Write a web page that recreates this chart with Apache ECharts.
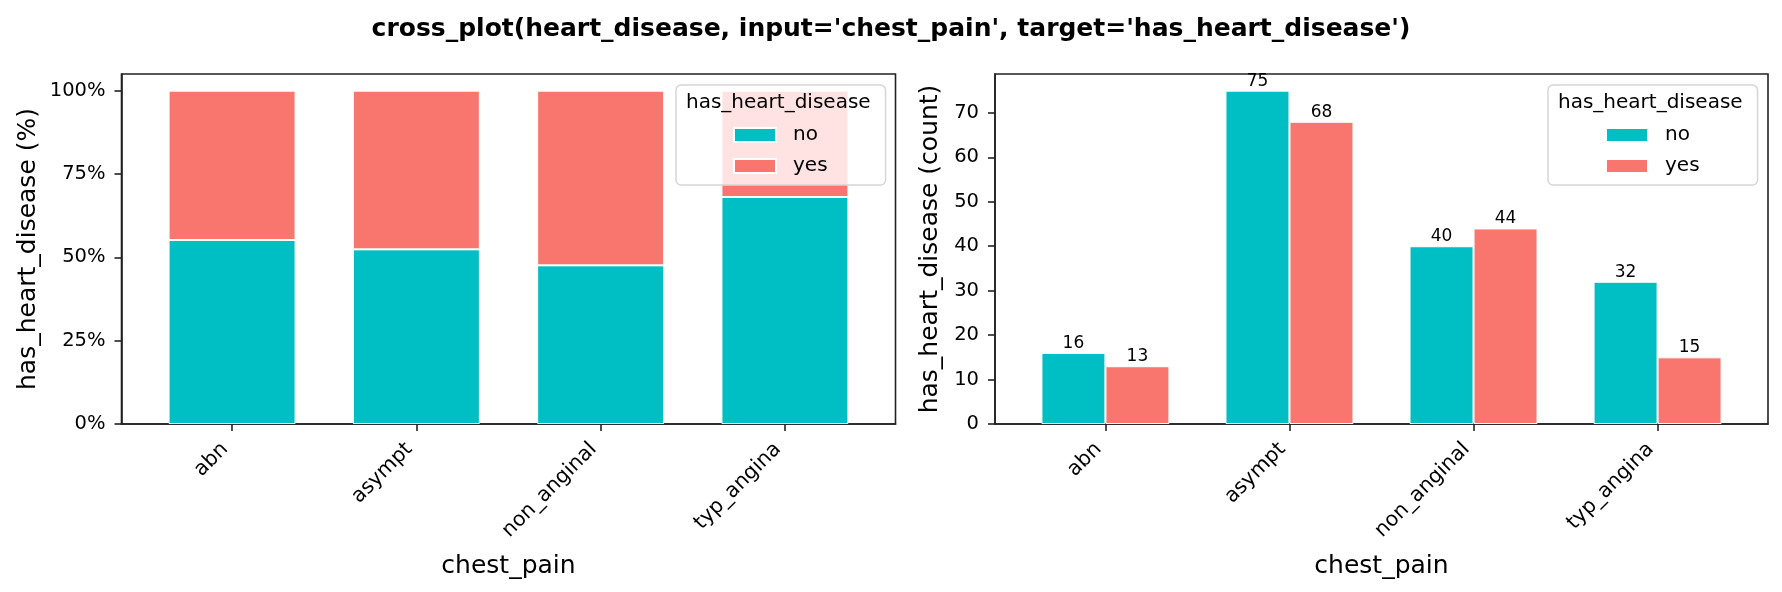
<!DOCTYPE html>
<html>
<head>
<meta charset="utf-8">
<script src="https://cdn.jsdelivr.net/npm/echarts@6/dist/echarts.min.js"></script>
<style>
  html, body { margin: 0; padding: 0; background: #fff; }
  #chart { width: 1782px; height: 592px; }
</style>
</head>
<body>
<div id="chart"></div>
<script>
// data
const categories = ['abn', 'asympt', 'non_anginal', 'typ_angina'];
const noCount = [16, 75, 40, 32];
const yesCount = [13, 68, 44, 15];
const noPct = [55.2, 52.4, 47.6, 68.1];
const yesPct = [44.8, 47.6, 52.4, 31.9];
const pctTicks = [0, 25, 50, 75, 100];

const TEAL = '#00BFC4';
const RED = '#F8766D';
const FONT = 'DejaVu Sans';

const chart = echarts.init(document.getElementById('chart'));

// bars sit on a value axis so the matplotlib margins can be kept;
// value goes first in each row so stacking works on y
const pos = categories.map((c, i) => i);
function rows(vals) {
  return vals.map((v, i) => [v, pos[i]]);
}

function xAxisFor(gridIndex) {
  return {
    type: 'value',
    gridIndex: gridIndex,
    min: -0.6,
    max: 3.6,
    name: 'chest_pain',
    nameLocation: 'middle',
    nameGap: 130,
    nameTextStyle: { fontSize: 25, color: '#000', fontFamily: FONT },
    axisLine: { show: true, onZero: false, lineStyle: { color: '#222', width: 1.6 } },
    axisTick: { show: true, length: 7, lineStyle: { color: '#222', width: 1.6 }, customValues: pos },
    axisLabel: {
      customValues: pos,
      rotate: 45,
      margin: 15,
      padding: [0, 10, 0, 0],
      fontSize: 20.5,
      color: '#000',
      fontFamily: FONT,
      formatter: v => categories[v]
    },
    splitLine: { show: false }
  };
}

function legendFor(left) {
  return {
    orient: 'vertical',
    left: left,
    top: 85,
    data: ['no', 'yes'],
    icon: 'rect',
    itemWidth: 42,
    itemHeight: 14,
    itemGap: 11,
    padding: [40, 58, 9, 57],
    backgroundColor: 'rgba(255,255,255,0.8)',
    borderColor: '#d6d6d6',
    borderWidth: 1.5,
    borderRadius: 5,
    textStyle: { fontSize: 20, color: '#000', fontFamily: FONT, padding: [0, 0, 0, 12] },
    selectedMode: false
  };
}

function barSeries(name, color, vals, xi, width, stack, withLabel) {
  const s = {
    name: name, type: 'bar', xAxisIndex: xi, yAxisIndex: xi,
    barWidth: width, barGap: '0%',
    encode: { x: 1, y: 0 },
    data: rows(vals),
    itemStyle: { color: color, borderColor: '#fff', borderWidth: 1 }
  };
  if (stack) s.stack = stack;
  if (withLabel) {
    s.label = { show: true, position: 'top', distance: 1, fontSize: 17, color: '#000', fontFamily: FONT,
                formatter: p => p.value[0] };
  }
  return s;
}

const option = {
  animation: false,
  textStyle: { fontFamily: FONT },
  title: {
    text: "cross_plot(heart_disease, input='chest_pain', target='has_heart_disease')",
    left: 'center',
    top: 12,
    textStyle: { fontSize: 25, fontWeight: 'bold', color: '#000', fontFamily: FONT }
  },
  legend: [legendFor(676), legendFor(1548)],
  graphic: [
    { type: 'text', left: 686, top: 93, z: 100,
      style: { text: 'has_heart_disease', fontSize: 20, fill: '#000', fontFamily: FONT } },
    { type: 'text', left: 1558, top: 93, z: 100,
      style: { text: 'has_heart_disease', fontSize: 20, fill: '#000', fontFamily: FONT } }
  ],
  grid: [
    { left: 121.5, width: 774, top: 74, bottom: 168, show: true, borderColor: '#222', borderWidth: 1.6, backgroundColor: 'transparent' },
    { left: 995, width: 773, top: 74, bottom: 168, show: true, borderColor: '#222', borderWidth: 1.6, backgroundColor: 'transparent' }
  ],
  xAxis: [xAxisFor(0), xAxisFor(1)],
  yAxis: [
    {
      type: 'value',
      gridIndex: 0,
      min: 0,
      max: 105,
      name: 'has_heart_disease (%)',
      nameLocation: 'middle',
      nameGap: 81,
      nameTextStyle: { fontSize: 25, color: '#000', fontFamily: FONT },
      axisLine: { show: true, onZero: false, lineStyle: { color: '#222', width: 1.6 } },
      axisTick: { show: true, length: 7, lineStyle: { color: '#222', width: 1.6 }, customValues: pctTicks },
      axisLabel: { customValues: pctTicks, margin: 16, fontSize: 19.5, color: '#000', fontFamily: FONT, formatter: '{value}%' },
      splitLine: { show: false }
    },
    {
      type: 'value',
      gridIndex: 1,
      min: 0,
      max: 78.75,
      interval: 10,
      name: 'has_heart_disease (count)',
      nameLocation: 'middle',
      nameGap: 52,
      nameTextStyle: { fontSize: 25, color: '#000', fontFamily: FONT },
      axisLine: { show: true, onZero: false, lineStyle: { color: '#222', width: 1.6 } },
      axisTick: { show: true, length: 7, lineStyle: { color: '#222', width: 1.6 } },
      axisLabel: { margin: 16, fontSize: 19.5, color: '#000', fontFamily: FONT, showMaxLabel: false },
      splitLine: { show: false }
    }
  ],
  series: [
    barSeries('no', TEAL, noPct, 0, 127, 'pct', false),
    barSeries('yes', RED, yesPct, 0, 127, 'pct', false),
    barSeries('no', TEAL, noCount, 1, 64, null, true),
    barSeries('yes', RED, yesCount, 1, 64, null, true)
  ]
};

chart.setOption(option);
</script>
</body>
</html>
